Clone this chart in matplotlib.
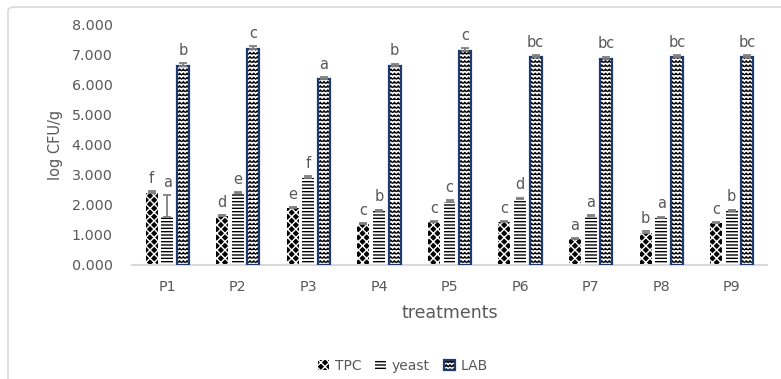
import numpy as np
import matplotlib
matplotlib.use("Agg")
import matplotlib.pyplot as plt
from matplotlib.patches import Patch, FancyBboxPatch
from matplotlib.legend_handler import HandlerTuple
from matplotlib.path import Path
import matplotlib.hatch as mhatch

# ---------------- data ----------------
categories = ["P1", "P2", "P3", "P4", "P5", "P6", "P7", "P8", "P9"]
tpc = [2.40, 1.64, 1.89, 1.37, 1.44, 1.44, 0.86, 1.06, 1.39]
yeast = [1.61, 2.39, 2.91, 1.80, 2.11, 2.19, 1.63, 1.58, 1.80]
lab = [6.64, 7.20, 6.20, 6.63, 7.14, 6.92, 6.87, 6.92, 6.92]
tpc_err = [0.07, 0.03, 0.03, 0.03, 0.03, 0.03, 0.03, 0.07, 0.03]
yeast_err = [0.72, 0.03, 0.05, 0.05, 0.05, 0.05, 0.03, 0.03, 0.04]
lab_err = [0.08, 0.10, 0.06, 0.08, 0.08, 0.08, 0.08, 0.08, 0.08]
tpc_let = ["f", "d", "e", "c", "c", "c", "a", "b", "c"]
yeast_let = ["a", "e", "f", "b", "c", "d", "a", "a", "b"]
lab_let = ["b", "c", "a", "b", "c", "bc", "bc", "bc", "bc"]
yticks = [0, 1, 2, 3, 4, 5, 6, 7, 8]

# ---------------- custom zigzag hatch (replaces '|') ----------------
ZZ = "||||"
try:
    class ZigZagHatch(mhatch.HatchPatternBase):
        def __init__(self, hatch, density):
            self.n = int(hatch.count('|') * density)
            self.m = int(self.n * 1.15)
            self.per_row = 2 * self.m + 1
            self.num_vertices = self.n * self.per_row

        def set_vertices_and_codes(self, vertices, codes):
            if self.n == 0:
                return
            amp = 0.45 / self.n
            xs = np.linspace(0, 1, self.per_row)
            for i in range(self.n):
                y0 = i / self.n
                ys = y0 + np.where(np.arange(self.per_row) % 2 == 1, amp, 0.0)
                s = i * self.per_row
                vertices[s:s + self.per_row, 0] = xs
                vertices[s:s + self.per_row, 1] = ys
                codes[s] = Path.MOVETO
                codes[s + 1:s + self.per_row] = Path.LINETO

    types = mhatch._hatch_types
    for k, t in enumerate(types):
        if t is mhatch.VerticalHatch:
            types[k] = ZigZagHatch
except Exception:
    ZZ = "xxx"

grey = "#595959"
navy = "#1F3A6E"

fig = plt.figure(figsize=(7.81, 3.79), dpi=100)
W, H = 781, 379
ax = fig.add_axes([132 / W, 1 - 265 / H, (767 - 132) / W, (265 - 25) / H])

# outer chart border
fig.patches.append(FancyBboxPatch((8 / W, -0.1), 1.2, (H - 7) / H + 0.1,
                                  boxstyle="round,pad=0,rounding_size=0.01",
                                  transform=fig.transFigure, fill=False,
                                  edgecolor="#d9d9d9", linewidth=1.2))

x = np.arange(len(categories))
bw = 0.17
off = 0.222


def thin_hatch(patches, lw):
    for p in patches:
        if hasattr(p, "set_hatch_linewidth"):
            p.set_hatch_linewidth(lw)


ax.bar(x - off, tpc, bw, facecolor="black", edgecolor="white",
       hatch="xxxx", linewidth=0, zorder=2)
ax.bar(x, yeast, bw, facecolor="white", edgecolor="black",
       hatch="-----", linewidth=0, zorder=2)
with plt.rc_context({"hatch.linewidth": 0.8}):
    lab_bars = ax.bar(x + off, lab, bw, facecolor="white", edgecolor="black",
                      hatch=ZZ, linewidth=0, zorder=2)
thin_hatch(lab_bars, 0.8)
ax.bar(x + off, lab, bw, fill=False, edgecolor=navy, linewidth=1.6, zorder=3)

ekw = dict(fmt="none", ecolor="#7f7f7f", elinewidth=1.3, capsize=3,
           capthick=1.3, zorder=4)
zeros = np.zeros(len(x))
ax.errorbar(x - off, tpc, yerr=[zeros, tpc_err], **ekw)
ax.errorbar(x, yeast, yerr=[zeros, yeast_err], **ekw)
ax.errorbar(x + off, lab, yerr=[zeros, lab_err], **ekw)

for xs, vals, errs, lets in [(x - off, tpc, tpc_err, tpc_let),
                             (x, yeast, yeast_err, yeast_let),
                             (x + off, lab, lab_err, lab_let)]:
    for xi, v, e, l in zip(xs, vals, errs, lets):
        ax.annotate(l, (xi, v + e), xytext=(0, 6), textcoords="offset points",
                    ha="center", va="baseline", fontsize=10.5, color=grey)

ax.set_xlim(-0.5, 8.5)
ax.set_ylim(0, 8)
ax.set_yticks(yticks)
ax.set_yticklabels([f"{t:.3f}" for t in yticks])
ax.set_xticks(x)
ax.set_xticklabels(categories)
ax.tick_params(axis="y", length=0, pad=14, labelsize=10.3, labelcolor=grey)
ax.tick_params(axis="x", length=0, pad=11, labelsize=10.3, labelcolor=grey)
for s in ["top", "right", "left"]:
    ax.spines[s].set_visible(False)
ax.spines["bottom"].set_color("#d9d9d9")
ax.spines["bottom"].set_linewidth(1.5)

ax.set_xlabel("treatments", fontsize=12.5, color=grey, labelpad=7)
ax.set_ylabel("log CFU/g", fontsize=10.5, color=grey, labelpad=6)

h_tpc = Patch(facecolor="black", edgecolor="white", hatch="xxxx", linewidth=0)
h_yeast = Patch(facecolor="white", edgecolor="black", hatch="-----", linewidth=0)
with plt.rc_context({"hatch.linewidth": 0.8}):
    h_lab_fill = Patch(facecolor="white", edgecolor="black", hatch=ZZ, linewidth=0)
thin_hatch([h_lab_fill], 0.8)
h_lab = (h_lab_fill, Patch(fill=False, edgecolor=navy, linewidth=1.6))
leg = fig.legend([h_tpc, h_yeast, h_lab], ["TPC", "yeast", "LAB"],
                 handler_map={tuple: HandlerTuple(ndivide=1)},
                 loc="center", bbox_to_anchor=(403 / W, 1 - 366 / H),
                 ncol=3, frameon=False, fontsize=10, handlelength=0.8,
                 handleheight=0.8, handletextpad=0.4, columnspacing=1.0,
                 labelcolor=grey)

fig.savefig("out.png", dpi=100)
